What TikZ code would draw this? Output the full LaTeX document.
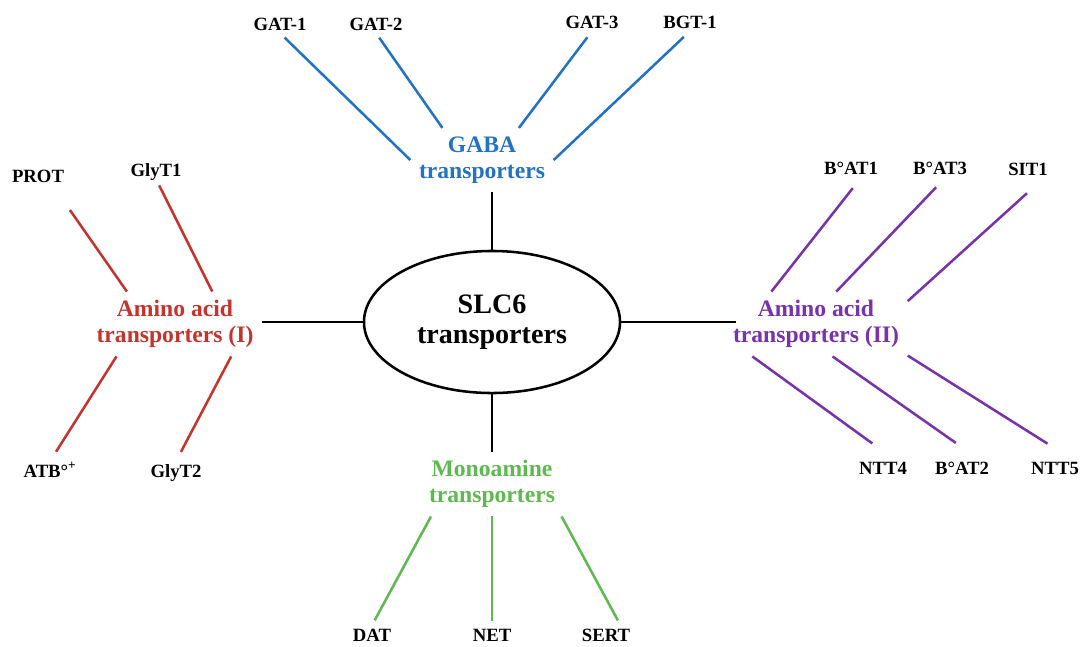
\documentclass[tikz,border=0pt]{standalone}
\usepackage{fontspec}
\setmainfont{Liberation Serif}
\definecolor{gababl}{RGB}{36,114,196}
\definecolor{aared}{RGB}{196,52,46}
\definecolor{aapurple}{RGB}{120,50,170}
\definecolor{monogreen}{RGB}{96,184,82}
\usetikzlibrary{shapes.geometric}

\begin{document}
\begin{tikzpicture}[x=0.025cm,y=-0.025cm,
    leaf/.style={anchor=base,inner sep=2pt,text height=9pt,text depth=0pt,
      font=\fontsize{13.3}{15}\selectfont\bfseries},
    family/.style={align=center,inner sep=6pt,
      font=\fontsize{16.8}{18.5}\selectfont\bfseries},
    twig/.style={line width=1.8pt},
    hub/.style={line width=2.1pt}]
  \useasboundingbox (0,0) rectangle (1084,646);
  % the SLC6 family and its four branches
  \node[ellipse,draw,line width=1.8pt,minimum width=6.4cm,minimum height=3.55cm,
    inner sep=0pt,align=center,font=\fontsize{20}{21.3}\selectfont\bfseries]
    (slc) at (492,322) {SLC6\\transporters};
  \node[family,text=gababl] (gaba) at (482,160) {GABA\\transporters};
  \node[family,text=aared] (aa1) at (175,324) {Amino acid\\transporters (I)};
  \node[family,text=aapurple] (aa2) at (816,324) {Amino acid\\transporters (II)};
  \node[family,text=monogreen] (mono) at (492,484) {Monoamine\\transporters};
  \draw[hub] (slc.north) -- (slc.north |- gaba.south);
  \draw[hub] (slc.south) -- (mono.north);
  \draw[hub] (slc.west) -- (slc.west -| aa1.east);
  \draw[hub,shorten >=-8pt] (slc.east) -- (slc.east -| aa2.west);
  % members
  \node[leaf] (gat1) at (280,30) {GAT-1};
  \node[leaf] (gat2) at (376,30) {GAT-2};
  \node[leaf] (gat3) at (592,28) {GAT-3};
  \node[leaf] (bgt1) at (690,28) {BGT-1};
  \node[leaf] (prot) at (38,182) {PROT};
  \node[leaf] (glyt1) at (156,176) {GlyT1};
  \node[leaf] (atb) at (50,477) {ATB°\textsuperscript{+}};
  \node[leaf] (glyt2) at (176,477) {GlyT2};
  \node[leaf] (bat1) at (851,174) {B°AT1};
  \node[leaf] (bat3) at (940,174) {B°AT3};
  \node[leaf] (sit1) at (1028,175) {SIT1};
  \node[leaf] (ntt4) at (883,474) {NTT4};
  \node[leaf] (bat2) at (962,474) {B°AT2};
  \node[leaf] (ntt5) at (1055,474) {NTT5};
  \node[leaf] (dat) at (372,641) {DAT};
  \node[leaf] (net) at (492,641) {NET};
  \node[leaf] (sert) at (606,641) {SERT};
  % twigs: member anchor / family anchor / gap at member
  \foreach \m/\f/\cut in {gat1.south/west/4.5pt,gat2.south/141/4pt,
      gat3.south/41/5.5pt,bgt1.south/east/6pt}
    \draw[twig,gababl,shorten <=\cut] (\m) -- (gaba.\f);
  \foreach \m/\f/\cut in {prot.-33/146/21.6pt,glyt1.south/41/5pt,
      atb.north/209/8pt,glyt2.north/330/7.5pt}
    \draw[twig,aared,shorten <=\cut] (\m) -- (aa1.\f);
  \foreach \m/\f/\cut in {bat1.-42/144/10pt,bat3.-58/58/10pt,sit1.-31/14/16pt,
      ntt4.44/207/18pt,bat2.31/297/19pt,ntt5.31/341/19.5pt}
    \draw[twig,aapurple,shorten <=\cut] (\m) -- (aa2.\f);
  \foreach \m/\f/\cut in {dat.north/208/4pt,net.north/south/3pt,sert.33/335/4pt}
    \draw[twig,monogreen,shorten <=\cut] (\m) -- (mono.\f);
\end{tikzpicture}
\end{document}
